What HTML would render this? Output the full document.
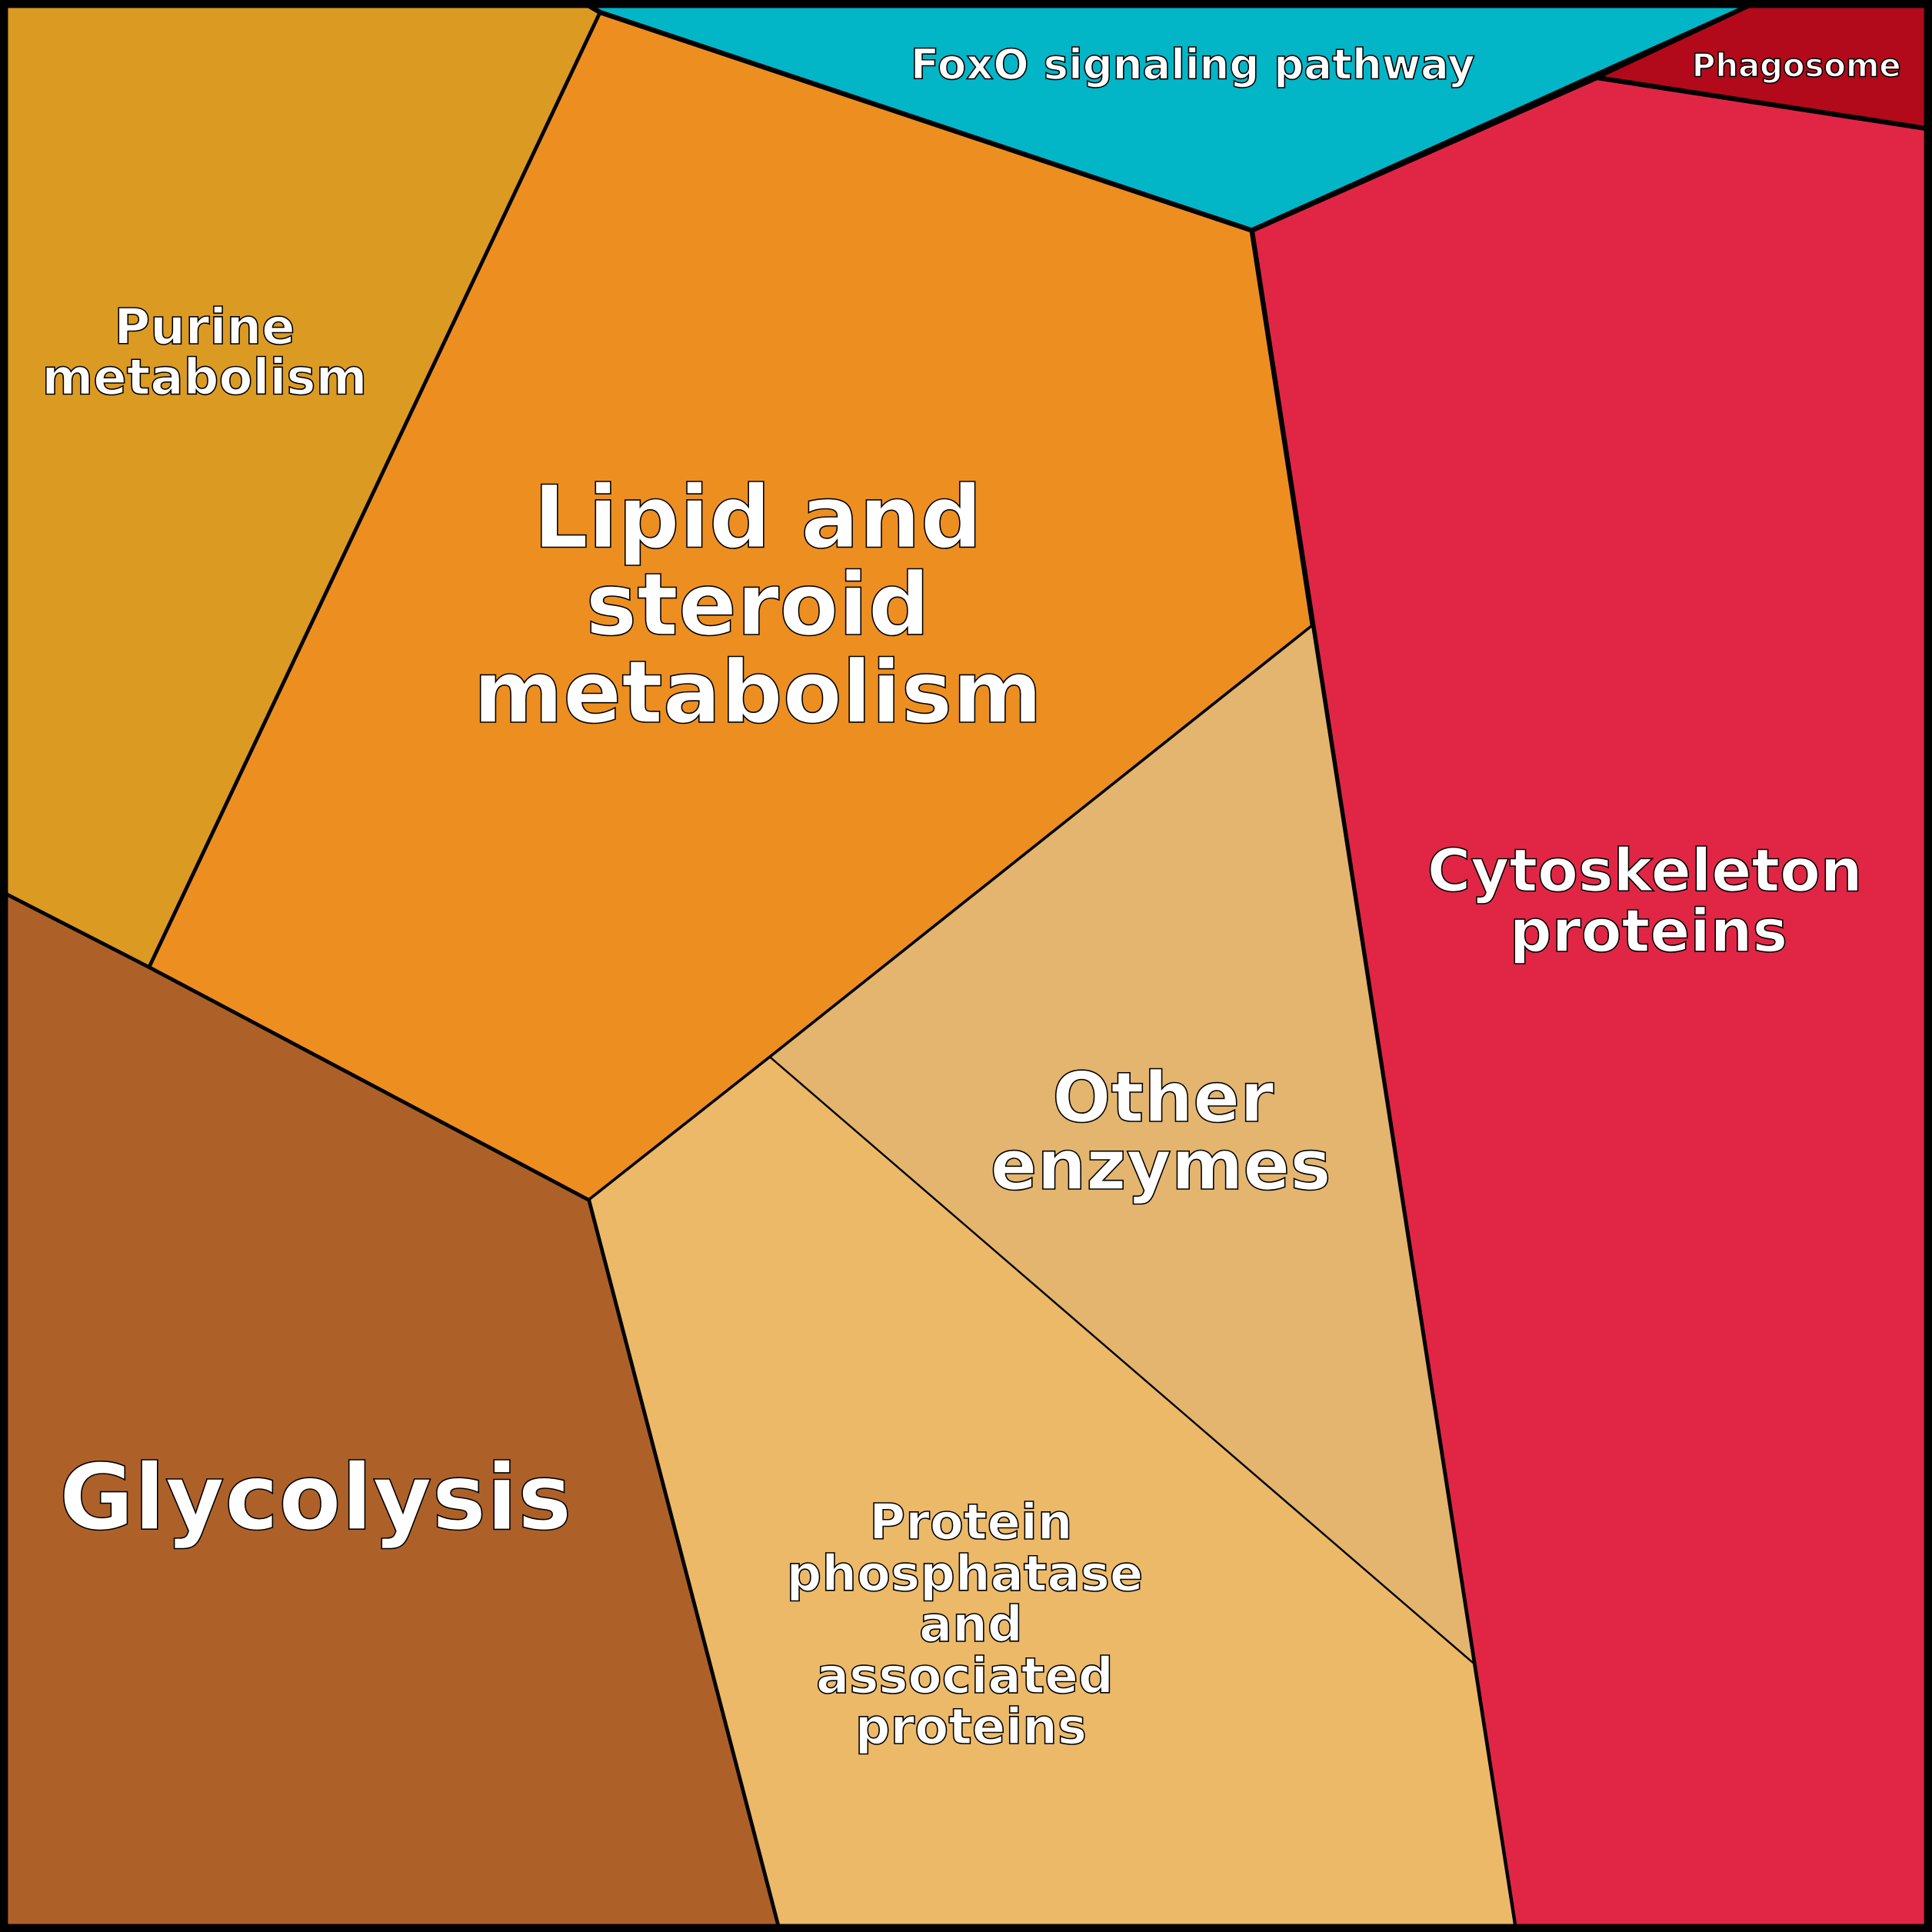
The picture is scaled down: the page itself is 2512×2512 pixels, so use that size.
<!DOCTYPE html>
<html><head><style>html,body{margin:0;padding:0;background:#fff}svg{display:block}</style></head>
<body>
<svg width="2512" height="2512" viewBox="0 0 1568 1568" xmlns="http://www.w3.org/2000/svg">
<g stroke="#000" stroke-linejoin="round">
<polygon points="0,0 470,0 487,10 121,785 0,723" fill="#DB9A22" stroke-width="2"/>
<polygon points="487,10 1016,187 1065,508 625,858 478,974 121,785" fill="#EC8F20" stroke-width="3"/>
<polygon points="470,0 1430,0 1016,187 487,10" fill="#02B5C7" stroke-width="4"/>
<polygon points="1430,0 1568,0 1568,105 1296,63" fill="#B20A1B" stroke-width="3"/>
<polygon points="1296,63 1568,105 1568,1568 1230,1568 1016,187" fill="#E12645" stroke-width="4"/>
<polygon points="1065,508 1196,1350 625,858" fill="#E3B56E" stroke-width="1.5"/>
<polygon points="625,858 1196,1350 1230,1568 633,1568 478,974" fill="#EBB968" stroke-width="1.5"/>
<polygon points="0,723 121,785 478,974 633,1568 0,1568" fill="#AD6128" stroke-width="3"/>
</g>
<rect x="3" y="3" width="1562" height="1562" fill="none" stroke="#000" stroke-width="7"/>
<g font-family="DejaVu Sans, Liberation Sans, sans-serif" font-weight="bold" fill="#fff" stroke="#000" stroke-width="1" text-anchor="middle">
<text x="968" y="64" font-size="34">FoxO signaling pathway</text>
<text x="1458" y="62" font-size="26">Phagosome</text>
<text font-size="40"><tspan x="166" y="279">Purine</tspan><tspan x="166" y="320">metabolism</tspan></text>
<text font-size="70"><tspan x="615" y="444">Lipid and</tspan><tspan x="615" y="515">steroid</tspan><tspan x="615" y="586">metabolism</tspan></text>
<text font-size="48"><tspan x="1335" y="723">Cytoskeleton</tspan><tspan x="1338" y="772">proteins</tspan></text>
<text font-size="56"><tspan x="944" y="910">Other</tspan><tspan x="942" y="965">enzymes</tspan></text>
<text x="256" y="1241" font-size="74">Glycolysis</text>
<text font-size="40"><tspan x="788" y="1249">Protein</tspan><tspan x="783" y="1291">phosphatase</tspan><tspan x="788" y="1332">and</tspan><tspan x="783" y="1374">associated</tspan><tspan x="788" y="1415">proteins</tspan></text>
</g>
</svg>
</body></html>
